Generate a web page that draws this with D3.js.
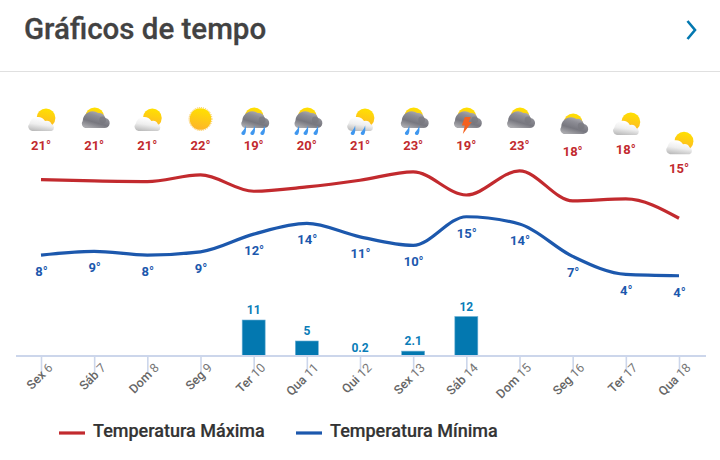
<!DOCTYPE html>
<html>
<head>
<meta charset="utf-8">
<script src="https://cdn.jsdelivr.net/npm/d3@7"></script>
<style>
  html, body { margin: 0; padding: 0; background: #fff; }
  svg { display: block; font-family: Roboto, sans-serif; }
</style>
</head>
<body>
<svg id="chart" width="720" height="460"></svg>
<script>
const days = ['Sex 6', 'Sáb 7', 'Dom 8', 'Seg 9', 'Ter 10', 'Qua 11', 'Qui 12', 'Sex 13', 'Sáb 14', 'Dom 15', 'Seg 16', 'Ter 17', 'Qua 18']
const icons = ['partly', 'dark', 'partly', 'sun', 'rain3', 'rain3', 'partlyRain', 'rain2', 'storm', 'dark', 'dark', 'partly', 'partly']

const maxLabels = [21, 21, 21, 22, 19, 20, 21, 23, 19, 23, 18, 18, 15]
const minLabels = [8, 9, 8, 9, 12, 14, 11, 10, 15, 14, 7, 4, 4]
const maxValues = [21.97, 21.72, 21.6, 22.84, 19.8, 20.6, 21.85, 23.4, 19.1, 23.6, 18, 18.37, 14.77]
const minValues = [7.9, 8.6, 7.9, 8.5, 11.8, 13.8, 11.3, 9.7, 15.05, 13.7, 7.65, 4.3, 4.05]
const rain = [null, null, null, null, 11, 5, 0.2, 2.1, 12, null, null, null, null]

const RED = '#c22a2e'
const BLUE = '#1c58ad'
const BAR = '#0378b0'
const AXIS = '#ccd6eb'

const svg = d3.select('#chart')
const baseY = 356

const x = d3.scalePoint().domain(days).range([41, 679])
const y = d3.scaleLinear().domain([4, 15]).range([276, 217])
const yRain = d3.scaleLinear().domain([0.85, 12]).range([355.5, 316.5]).clamp(true)

// header
svg.append('text').attr('x', 24).attr('y', 39)
  .attr('font-size', 29.5).attr('font-weight', 500).attr('fill', '#424242')
  .attr('stroke', '#424242').attr('stroke-width', 0.3)
  .text('Gráficos de tempo')
svg.append('path').attr('d', 'M687.5,21 L695,30 L687.5,39')
  .attr('fill', 'none').attr('stroke', BAR).attr('stroke-width', 2.6)
svg.append('line').attr('x1', 0).attr('x2', 720).attr('y1', 71.5).attr('y2', 71.5)
  .attr('stroke', '#e0e0e0').attr('stroke-width', 1)

// gradients for the weather icons
const defs = svg.append('defs')
function gradient (id, stops, x1, y1, x2, y2) {
  const g = defs.append('linearGradient').attr('id', id)
    .attr('x1', x1).attr('y1', y1).attr('x2', x2).attr('y2', y2)
  stops.forEach((s, i) => g.append('stop').attr('offset', i / (stops.length - 1)).attr('stop-color', s))
}
gradient('sunFill', ['#ffe100', '#fdb42a'], 0.6, 0, 0.4, 1)
gradient('cloudLight', ['#ffffff', '#eeeeee', '#bdbdbd'], 0.6, 0.1, 0.35, 1)
gradient('cloudDark', ['#b9b9bd', '#8e8e96', '#77777f', '#a9a9ad'], 0.8, 0, 0.3, 1)

const lightCloud = 'M-9,-14 A4.5,4.5 0 0 1 -11.5,-21.5 A8.5,8.5 0 0 1 4,-24 A5.5,5.5 0 0 1 10.5,-21 A3.7,3.7 0 0 1 10.5,-14 Z'
const darkCloud = 'M-9,-17 A4.5,4.5 0 0 1 -11.5,-24 A10,10 0 0 1 4,-32 A6,6 0 0 1 11,-27 A4.6,4.6 0 0 1 10,-17 Z'
const dropPath = 'M1.7,-4 C1,-1.5 -0.5,0 -1.6,1.4 C-2.6,3 -0.5,4.4 0.8,3.2 C2,2.2 2,-1 1.7,-4 Z'

function drawIcon (g, type) {
  if (type === 'sun') {
    g.append('circle').attr('cx', 0).attr('cy', -26).attr('r', 11.4)
      .attr('fill', 'none').attr('stroke', '#fdbd2c').attr('stroke-width', 1).attr('stroke-dasharray', '1 1')
    g.append('circle').attr('cx', 0).attr('cy', -26).attr('r', 10.8).attr('fill', 'url(#sunFill)')
    return
  }
  if (type === 'partly' || type === 'partlyRain') {
    g.append('circle').attr('cx', 5).attr('cy', -27).attr('r', 9.4).attr('fill', 'url(#sunFill)')
    g.append('path').attr('d', lightCloud).attr('fill', 'url(#cloudLight)')
  } else {
    g.append('circle').attr('cx', 0.5).attr('cy', -28).attr('r', 9.5).attr('fill', 'url(#sunFill)')
    g.append('path').attr('d', darkCloud).attr('fill', 'url(#cloudDark)')
    g.append('circle').attr('cx', 8.5).attr('cy', -25).attr('r', 3.4).attr('fill', '#74747c').attr('opacity', 0.6)
  }
  const drops = { rain3: [-10, -1, 9], rain2: [-6, 4], partlyRain: [-7, 3] }[type] || []
  drops.forEach(dx => {
    g.append('path').attr('d', dropPath)
      .attr('transform', 'translate(' + dx + ',-14.5) scale(1.25)').attr('fill', '#3f97ef')
  })
  if (type === 'storm') {
    g.append('path').attr('d', 'M-1.5,-28 L4.5,-28 L2.5,-23 L5.5,-23 L-3.5,-11 L-1.5,-19.5 L-4.5,-19.5 Z').attr('fill', '#f4611e')
  }
}

// rain bars
const rainRows = days.map((d, i) => ({ d, v: rain[i] })).filter(r => r.v !== null)
svg.selectAll('.bar').data(rainRows)
  .enter().append('rect').attr('class', 'bar')
  .attr('x', r => x(r.d) - 11.5).attr('width', 23)
  .attr('y', r => yRain(r.v)).attr('height', r => 355.5 - yRain(r.v))
  .attr('fill', BAR).attr('stroke', '#6fb2d6').attr('stroke-width', 0.6)

svg.selectAll('.barLabel').data(rainRows)
  .enter().append('text').attr('class', 'barLabel')
  .attr('x', r => x(r.d)).attr('y', r => yRain(r.v) - (r.v < 1 ? 3.5 : 6))
  .attr('text-anchor', 'middle').attr('font-size', 12).attr('font-weight', 700).attr('fill', '#0a7db8')
  .text(r => r.v)

// x axis
const axis = svg.append('g').attr('transform', 'translate(0,' + baseY + ')')
  .call(d3.axisBottom(x).tickSize(16).tickSizeOuter(0))
axis.select('.domain').remove()
axis.selectAll('.tick line').attr('stroke', AXIS).attr('stroke-width', 1.6)
axis.selectAll('.tick text').remove()
axis.selectAll('.tick').append('text')
  .attr('transform', 'translate(12,12.5) rotate(-45)')
  .attr('text-anchor', 'end').attr('font-size', 12.5).attr('font-family', 'Roboto, sans-serif')
  .each(function (d) {
    const parts = d.split(' ')
    d3.select(this).append('tspan').attr('font-weight', 500).attr('fill', '#666').text(parts[0] + ' ')
    d3.select(this).append('tspan').attr('font-weight', 400).attr('fill', '#777').text(parts[1])
  })
svg.append('line').attr('x1', 16).attr('x2', 706).attr('y1', baseY).attr('y2', baseY)
  .attr('stroke', AXIS).attr('stroke-width', 2)

// temperature curves
const line = d3.line().x((v, i) => x(days[i])).y(v => y(v)).curve(d3.curveMonotoneX)
svg.append('path').attr('d', line(maxValues)).attr('fill', 'none')
  .attr('stroke', RED).attr('stroke-width', 3.2).attr('stroke-linejoin', 'round')
svg.append('path').attr('d', line(minValues)).attr('fill', 'none')
  .attr('stroke', BLUE).attr('stroke-width', 3.2).attr('stroke-linejoin', 'round')

// max labels with the icon above, they stop rising at y=145
days.forEach((d, i) => {
  const labelY = Math.max(145, y(maxValues[i]) - 50)
  const g = svg.append('g').attr('transform', 'translate(' + x(d) + ',' + labelY + ')')
  drawIcon(g, icons[i])
  g.append('text').attr('y', 5).attr('text-anchor', 'middle')
    .attr('font-size', 13).attr('font-weight', 700).attr('fill', RED)
    .text(maxLabels[i] + '°')
})

svg.selectAll('.minLabel').data(days).enter().append('text').attr('class', 'minLabel')
  .attr('x', d => x(d) + 0.5).attr('y', (d, i) => y(minValues[i]) + 21)
  .attr('text-anchor', 'middle').attr('font-size', 13).attr('font-weight', 700).attr('fill', BLUE)
  .text((d, i) => minLabels[i] + '°')

// legend
const legend = [
  { name: 'Temperatura Máxima', color: RED, x: 59 },
  { name: 'Temperatura Mínima', color: BLUE, x: 296 }
]
legend.forEach(l => {
  svg.append('line').attr('x1', l.x).attr('x2', l.x + 26).attr('y1', 433).attr('y2', 433)
    .attr('stroke', l.color).attr('stroke-width', 3.2)
  svg.append('text').attr('x', l.x + 34).attr('y', 437)
    .attr('font-size', 18).attr('font-weight', 500).attr('fill', '#333')
    .attr('stroke', '#333').attr('stroke-width', 0.2)
    .text(l.name)
})
</script>
</body>
</html>
